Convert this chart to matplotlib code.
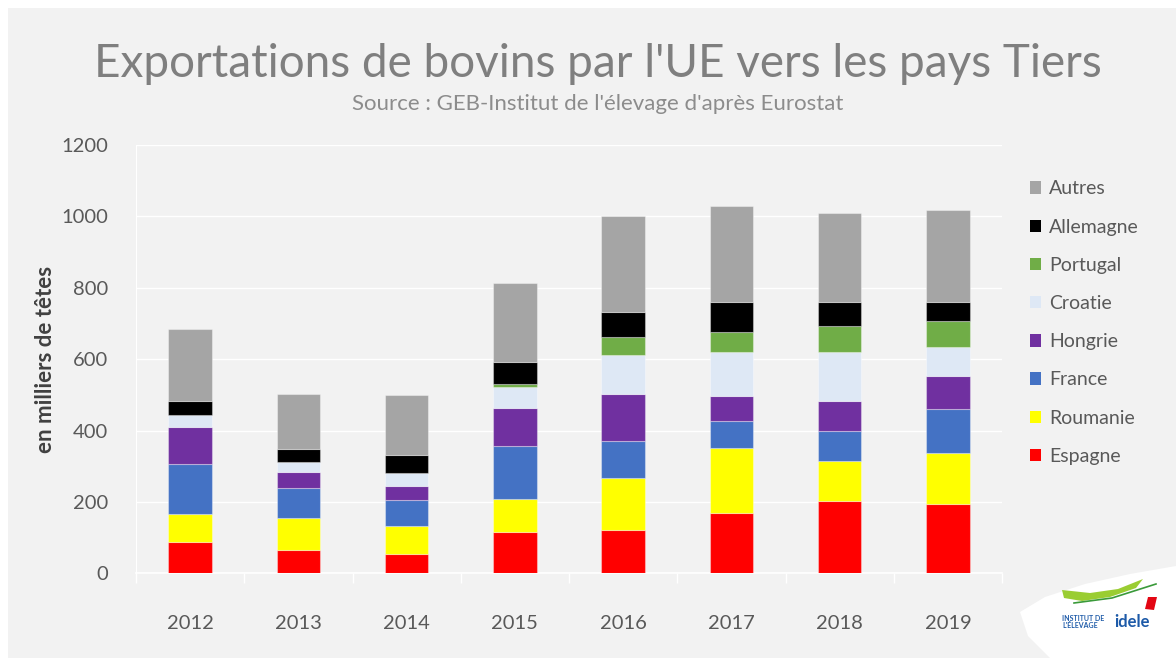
import matplotlib.pyplot as plt
import numpy as np
from matplotlib.patches import Patch, Polygon, Rectangle

plt.rcParams['font.family'] = ['Lato', 'DejaVu Sans']

annees = ['2012', '2013', '2014', '2015', '2016', '2017', '2018', '2019']

# milliers de tetes, de bas en haut de la pile
espagne = [88, 64, 54, 116, 121, 168, 202, 194]
roumanie = [78, 90, 78, 92, 146, 183, 114, 142]
france = [141, 84, 73, 150, 105, 77, 82, 123]
hongrie = [103, 45, 40, 105, 131, 70, 85, 94]
croatie = [34, 29, 37, 58, 108, 122, 138, 81]
portugal = [0, 0, 0, 10, 51, 57, 71, 73]
allemagne = [40, 36, 50, 61, 71, 82, 68, 53]
autres = [200, 155, 168, 220, 267, 271, 249, 259]

series = [
    ('Espagne', espagne, '#ff0000'),
    ('Roumanie', roumanie, '#ffff00'),
    ('France', france, '#4472c4'),
    ('Hongrie', hongrie, '#7030a0'),
    ('Croatie', croatie, '#dee8f5'),
    ('Portugal', portugal, '#70ad47'),
    ('Allemagne', allemagne, '#000000'),
    ('Autres', autres, '#a5a5a5'),
]

W, H = 1176, 658
fig = plt.figure(figsize=(W / 100, H / 100), dpi=100)
fig.patch.set_facecolor('white')
fig.add_artist(Rectangle((8 / W, 0), 1 - 8 / W, 1 - 8 / H, transform=fig.transFigure,
                         facecolor='#f2f2f2', edgecolor='none', zorder=-10))


def fpos(px, py):
    return (px / W, 1 - py / H)


ax = fig.add_axes([136 / W, 1 - 573.3 / H, 866 / W, 428.3 / H])
ax.set_facecolor('none')

x = np.arange(len(annees))
bas = np.zeros(len(annees))
for nom, valeurs, couleur in series:
    ax.bar(x, valeurs, bottom=bas, width=0.4, color=couleur,
           edgecolor=(1, 1, 1, 0.35), linewidth=0.8, label=nom, zorder=3)
    bas += np.array(valeurs)

ax.set_xlim(-0.5, len(annees) - 0.5)
ax.set_ylim(0, 1200)
ax.set_yticks(range(0, 1201, 200))
ax.set_xticks(x)
ax.set_xticklabels(annees)
ax.set_xticks(np.arange(-0.5, len(annees)), minor=True)
ax.tick_params(axis='x', which='major', length=0, pad=30, labelsize=14.5, labelcolor='#595959')
ax.tick_params(axis='x', which='minor', length=7, color='#ffffff', width=1)
ax.tick_params(axis='y', length=0, pad=20, labelsize=14.5, labelcolor='#595959')
ax.grid(axis='y', color='#ffffff', linewidth=1, zorder=0)
for cote in ['top', 'right']:
    ax.spines[cote].set_visible(False)
ax.spines['left'].set_color('#ffffff')
ax.spines['bottom'].set_color('#ffffff')
ax.spines['bottom'].set_linewidth(1.2)

ax.set_ylabel('en milliers de têtes', fontsize=16, fontweight='bold', color='#404040', labelpad=4)

fig.text(*fpos(598, 64), "Exportations de bovins par l'UE vers les pays Tiers",
         ha='center', va='center', fontsize=33, color='#7f7f7f')
fig.text(*fpos(598, 104), "Source : GEB-Institut de l'élevage d'après Eurostat",
         ha='center', va='center', fontsize=16, color='#8c8c8c')

poignees = [Patch(facecolor=c, edgecolor='none', label=n) for n, _, c in reversed(series)]
fig.legend(handles=poignees, loc='upper left', bbox_to_anchor=fpos(1012, 163),
           frameon=False, fontsize=14, labelcolor='#595959', handlelength=0.6,
           handleheight=0.6, handletextpad=0.4, labelspacing=1.09)

# logo idele
feuille = [(1020, 612), (1045, 597), (1085, 584), (1130, 574), (1176, 566),
           (1176, 658), (1050, 658), (1028, 636)]
fig.add_artist(Polygon([fpos(*p) for p in feuille], closed=True,
                       transform=fig.transFigure, facecolor='white', edgecolor='none', zorder=1))
swoosh = [(1062, 590), (1090, 593), (1118, 589), (1143, 579), (1136, 588),
          (1110, 597), (1082, 601), (1064, 598)]
fig.add_artist(Polygon([fpos(*p) for p in swoosh], closed=True, transform=fig.transFigure,
                       facecolor='#9acd32', edgecolor='none', zorder=2))
fig.add_artist(plt.Line2D(*zip(*[fpos(1074, 603), fpos(1112, 598), fpos(1156, 584)]),
                          transform=fig.transFigure, color='#3a9a3a', linewidth=1.2, zorder=2))
fig.add_artist(Polygon([fpos(1148, 597), fpos(1157, 597), fpos(1154, 610), fpos(1145, 609)],
                       closed=True, transform=fig.transFigure,
                       facecolor='#e30613', edgecolor='none', zorder=2))
fig.text(*fpos(1062, 622), "INSTITUT DE\nL'ÉLEVAGE", fontsize=5, fontweight='bold',
         color='#1d5aa8', va='center', ha='left', linespacing=0.9, zorder=3)
fig.text(*fpos(1114, 622), 'idele', fontsize=12, fontweight='bold',
         color='#1d5aa8', va='center', ha='left', zorder=3)

fig.savefig('out.png', dpi=100, facecolor=fig.get_facecolor())
